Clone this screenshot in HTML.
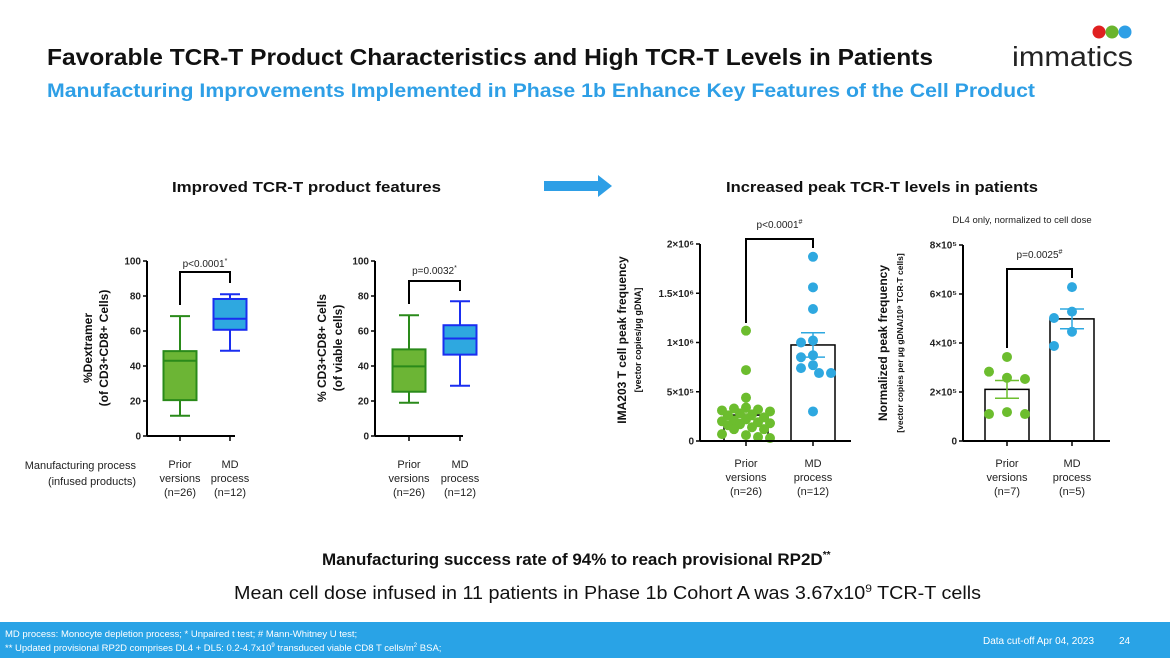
<!DOCTYPE html>
<html><head><meta charset="utf-8"><style>
html,body{margin:0;padding:0;background:#fff;}
body{width:1170px;height:658px;overflow:hidden;position:relative;font-family:"Liberation Sans",sans-serif;}
svg text{font-family:"Liberation Sans",sans-serif;}
</style></head><body>
<svg id="s" width="1170" height="658" viewBox="0 0 1170 658" xmlns="http://www.w3.org/2000/svg">
<text x="47" y="65" font-size="23" font-weight="bold" fill="#111" textLength="886" lengthAdjust="spacingAndGlyphs">Favorable TCR-T Product Characteristics and High TCR-T Levels in Patients</text>
<text x="47" y="97" font-size="19" font-weight="bold" fill="#2e9fe6" textLength="988" lengthAdjust="spacingAndGlyphs">Manufacturing Improvements Implemented in Phase 1b Enhance Key Features of the Cell Product</text>
<g>
<circle cx="1099" cy="32" r="6.5" fill="#e02020"/><circle cx="1112" cy="32" r="6.5" fill="#6ab42d"/><circle cx="1125" cy="32" r="6.5" fill="#2e9fe6"/>
<text x="1012" y="66" font-size="28" fill="#222" textLength="121" lengthAdjust="spacingAndGlyphs">immatics</text>
</g>
<text x="172" y="192" font-size="15" font-weight="bold" fill="#111" textLength="269" lengthAdjust="spacingAndGlyphs">Improved TCR-T product features</text>
<text x="726" y="192" font-size="15" font-weight="bold" fill="#111" textLength="312" lengthAdjust="spacingAndGlyphs">Increased peak TCR-T levels in patients</text>
<polygon points="544,181 598,181 598,175 612,186 598,197 598,191 544,191" fill="#2e9fe6"/>
<text x="136" y="469" font-size="11" text-anchor="end" fill="#222">Manufacturing process</text>
<text x="136" y="485" font-size="11" text-anchor="end" fill="#222">(infused products)</text>
<text x="322" y="565" font-size="17" font-weight="bold" fill="#111">Manufacturing success rate of 94% to reach provisional RP2D<tspan font-size="10" dy="-7">**</tspan></text>
<text x="234" y="599" font-size="18" fill="#111" textLength="747" lengthAdjust="spacingAndGlyphs">Mean cell dose infused in 11 patients in Phase 1b Cohort A was 3.67x10<tspan font-size="11" dy="-7">9</tspan><tspan dy="7"> TCR-T cells</tspan></text>
<rect x="0" y="622" width="1170" height="36" fill="#29a3e6"/>
<text x="5" y="637" font-size="9.5" fill="#fff">MD process: Monocyte depletion process; * Unpaired t test; # Mann-Whitney U test;</text>
<text x="5" y="651" font-size="9.5" fill="#fff">** Updated provisional RP2D comprises DL4 + DL5: 0.2-4.7x10<tspan font-size="6" dy="-4">9</tspan><tspan dy="4"> transduced viable CD8 T cells/m</tspan><tspan font-size="6" dy="-4">2</tspan><tspan dy="4"> BSA;</tspan></text>
<text x="983" y="644" font-size="10" fill="#fff">Data cut-off Apr 04, 2023</text>
<text x="1119" y="644" font-size="10" fill="#fff">24</text>
<g id="charts"></g>
</svg>
<script>
// Box plot data: [min, q1, median, q3, max]
const boxCategories = ["Prior versions (n=26)", "MD process (n=12)"];
const dextramerBoxes = [[11.6, 20.5, 43, 48.5, 68.5], [48.7, 60.7, 67, 78.3, 81]];
const cd3cd8Boxes = [[19, 25.3, 39.8, 49.5, 69], [28.7, 46.5, 55.7, 63.3, 77]];
const boxTicks = [0, 20, 40, 60, 80, 100];
// Scatter data
const peakPrior = [1.12, 0.72, 0.44, 0.34, 0.33, 0.32, 0.31, 0.30, 0.28, 0.27, 0.26, 0.24, 0.22, 0.21, 0.20, 0.19, 0.18, 0.17, 0.16, 0.14, 0.12, 0.12, 0.07, 0.06, 0.04, 0.03]; // x1e6
const peakMD = [1.87, 1.56, 1.34, 1.02, 1.0, 0.87, 0.85, 0.74, 0.77, 0.69, 0.69, 0.30];
const peakTicks = [0, 0.5, 1, 1.5, 2];
const peakTickLabels = ["0", "5×10⁵", "1×10⁶", "1.5×10⁶", "2×10⁶"];
const normPrior = [3.43, 2.83, 2.53, 2.58, 1.10, 1.18, 1.10]; // x1e5
const normMD = [6.28, 5.02, 5.28, 4.46, 3.88];
const normTicks = [0, 2, 4, 6, 8];
const normTickLabels = ["0", "2×10⁵", "4×10⁵", "6×10⁵", "8×10⁵"];

const NS = "http://www.w3.org/2000/svg";
const root = document.getElementById('charts');
function mk(tag, attrs, parent, text) {
  const e = document.createElementNS(NS, tag);
  for (const k in attrs) e.setAttribute(k, attrs[k]);
  if (text !== undefined) e.textContent = text;
  (parent || root).appendChild(e);
  return e;
}
function lin(d0, d1, r0, r1) { return v => r0 + (v - d0) / (d1 - d0) * (r1 - r0); }
function mean(a) { return a.reduce((s, v) => s + v, 0) / a.length; }
function sem(a) { const m = mean(a); return Math.sqrt(a.reduce((s, v) => s + (v - m) * (v - m), 0) / (a.length - 1) / a.length); }

function axes(g, x0, x1, y, ticks, labels, catX) {
  mk('line', {x1: x0, y1: y(ticks[ticks.length - 1]), x2: x0, y2: y(ticks[0]), stroke: '#000', 'stroke-width': 2}, g);
  mk('line', {x1: x0, y1: y(ticks[0]), x2: x1, y2: y(ticks[0]), stroke: '#000', 'stroke-width': 2}, g);
  ticks.forEach((t, i) => {
    mk('line', {x1: x0 - 4, y1: y(t), x2: x0, y2: y(t), stroke: '#000', 'stroke-width': 1.5}, g);
    const tl = mk('text', {x: x0 - 6, y: y(t) + 3.5, 'font-size': 10, 'font-weight': 'bold', 'text-anchor': 'end', fill: '#222'}, g, labels[i]);
    
    
  });
  catX.forEach(cx => mk('line', {x1: cx, y1: y(ticks[0]), x2: cx, y2: y(ticks[0]) + 5, stroke: '#000', 'stroke-width': 1.5}, g));
}
function catLabels(g, catX, lines, y0) {
  lines.forEach((ls, i) => ls.forEach((t, j) => {
    const e = mk('text', {x: catX[i], y: y0 + j * 14, 'font-size': 11, 'text-anchor': 'middle', fill: '#222'}, g, t);
    
    
  }));
}
function yTitle(g, x, cy, lines) {
  lines.forEach((l, i) => {
    const e = mk('text', {x: 0, y: 0, 'font-size': l.size, 'font-weight': 'bold', 'text-anchor': 'middle', fill: '#111', transform: `translate(${x + i * l.gap},${cy}) rotate(-90)`}, g, l.text);
    
    
  });
}
function bracket(g, xa, xb, top, ya, yb, label, ly) {
  mk('polyline', {points: `${xa},${ya} ${xa},${top} ${xb},${top} ${xb},${yb}`, fill: 'none', stroke: '#000', 'stroke-width': 2}, g);
  const t = mk('text', {x: (xa + xb) / 2, y: ly, 'font-size': 10, 'text-anchor': 'middle', fill: '#222'}, g, label[0]);
  mk('tspan', {'font-size': 7, dy: -4}, t, label[1]);
  
  
}

function boxChart(name, ax, catX, boxes, bw, titles, br) {
  const g = mk('g', {});
  
  
  const y = lin(0, 100, 436, 261);
  axes(g, ax, ax + 88, y, boxTicks, boxTicks.map(String), catX);
  const fills = ['#6cb535', '#2ea8e0'], strokes = ['#2a8a1a', '#1a2ef0'];
  boxes.forEach((b, i) => {
    const bg = mk('g', {}, g);
    
    
    const cx = catX[i], st = {stroke: strokes[i], 'stroke-width': 2};
    mk('line', Object.assign({x1: cx, y1: y(b[4]), x2: cx, y2: y(b[3])}, st), bg);
    mk('line', Object.assign({x1: cx, y1: y(b[1]), x2: cx, y2: y(b[0])}, st), bg);
    mk('line', Object.assign({x1: cx - 10, y1: y(b[4]), x2: cx + 10, y2: y(b[4])}, st), bg);
    mk('line', Object.assign({x1: cx - 10, y1: y(b[0]), x2: cx + 10, y2: y(b[0])}, st), bg);
    mk('rect', Object.assign({x: cx - bw / 2, y: y(b[3]), width: bw, height: y(b[1]) - y(b[3]), fill: fills[i]}, st), bg);
    mk('line', Object.assign({x1: cx - bw / 2, y1: y(b[2]), x2: cx + bw / 2, y2: y(b[2])}, st), bg);
  });
  yTitle(g, titles.x, 348, titles.lines);
  bracket(g, catX[0], catX[1], br.top, br.ya, br.yb, br.label, br.ly);
  catLabels(g, catX, [["Prior", "versions", "(n=26)"], ["MD", "process", "(n=12)"]], 468);
}
boxChart('dextramer-box-chart', 147, [180, 230], dextramerBoxes, 33,
  {x: 92, lines: [{text: '%Dextramer', size: 12, gap: 16}, {text: '(of CD3+CD8+ Cells)', size: 12, gap: 16}]},
  {top: 272, ya: 305, yb: 283, label: ['p<0.0001', '*'], ly: 267});
boxChart('cd3cd8-box-chart', 375, [409, 460], cd3cd8Boxes, 33,
  {x: 326, lines: [{text: '% CD3+CD8+ Cells', size: 12, gap: 16}, {text: '(of viable cells)', size: 12, gap: 16}]},
  {top: 281, ya: 304, yb: 291, label: ['p=0.0032', '*'], ly: 274});

function swarm(vals, y, cx, minD, step, maxOff) {
  const placed = [], out = [];
  const order = vals.map((v, i) => i).sort((a, b) => vals[b] - vals[a]);
  order.forEach(i => {
    const py = y(vals[i]);
    let best = null, bestScore = -1;
    for (let k = 0; ; k++) {
      const off = (k % 2 ? -1 : 1) * Math.ceil(k / 2) * step;
      if (Math.abs(off) > maxOff) break;
      const px = cx + off;
      const dmin = placed.reduce((m, p) => Math.min(m, Math.hypot(p[0] - px, p[1] - py)), 1e9);
      if (dmin >= minD) { best = px; break; }
      if (dmin > bestScore) { bestScore = dmin; best = px; }
    }
    placed.push([best, py]);
    out[i] = [best, py];
  });
  return out;
}
function scatterChart(name, ax, catX, groups, ticks, labels, ymax, y0, ytop, bw, sw, titles, br, nLabels) {
  const g = mk('g', {});
  
  
  const y = lin(0, ymax, y0, ytop);
  const cols = ['#6cbd2e', '#2ea8e0'];
  groups.forEach((vals, i) => {
    const cx = catX[i], m = mean(vals), se = sem(vals);
    const bar = mk('rect', {x: cx - bw / 2, y: y(m), width: bw, height: y(0) - y(m), fill: '#fff', stroke: '#000', 'stroke-width': 1.5}, g);
    
    
    swarm(vals, y, cx, sw[0], sw[1], sw[2]).forEach(p => {
      const c = mk('circle', {cx: p[0], cy: p[1], r: 5, fill: cols[i]}, g);
      
      
    });
    const eb = mk('g', {stroke: cols[i], 'stroke-width': 1.5}, g);
    
    
    mk('line', {x1: cx, y1: y(m + se), x2: cx, y2: y(m - se)}, eb);
    mk('line', {x1: cx - 12, y1: y(m + se), x2: cx + 12, y2: y(m + se)}, eb);
    mk('line', {x1: cx - 12, y1: y(m - se), x2: cx + 12, y2: y(m - se)}, eb);
  });
  axes(g, ax, ax + (catX[1] - ax) + 38, y, ticks, labels, catX);
  yTitle(g, titles.x, titles.cy, titles.lines);
  bracket(g, catX[0], catX[1], br.top, br.ya, br.yb, br.label, br.ly);
  catLabels(g, catX, nLabels, 467);
}
scatterChart('peak-frequency-chart', 700, [746, 813], [peakPrior, peakMD], peakTicks, peakTickLabels, 2, 441, 244, 44, [9.5, 6, 24],
  {x: 626, cy: 340, lines: [{text: 'IMA203 T cell peak frequency', size: 12, gap: 15}, {text: '[vector copies/µg gDNA]', size: 9, gap: 15}]},
  {top: 239, ya: 323, yb: 248, label: ['p<0.0001', '#'], ly: 228},
  [["Prior", "versions", "(n=26)"], ["MD", "process", "(n=12)"]]);
scatterChart('normalized-peak-chart', 963, [1007, 1072], [normPrior, normMD], normTicks, normTickLabels, 8, 441, 245, 44, [18, 18, 18],
  {x: 887, cy: 343, lines: [{text: 'Normalized peak frequency', size: 12, gap: 16}, {text: '[vector copies per µg gDNA/10⁹ TCR-T cells]', size: 8.5, gap: 16}]},
  {top: 269, ya: 348, yb: 278, label: ['p=0.0025', '#'], ly: 258},
  [["Prior", "versions", "(n=7)"], ["MD", "process", "(n=5)"]]);
const dl = mk('text', {x: 1022, y: 223, 'font-size': 9.5, 'text-anchor': 'middle', fill: '#222'}, root, 'DL4 only, normalized to cell dose');


</script>
</body></html>
